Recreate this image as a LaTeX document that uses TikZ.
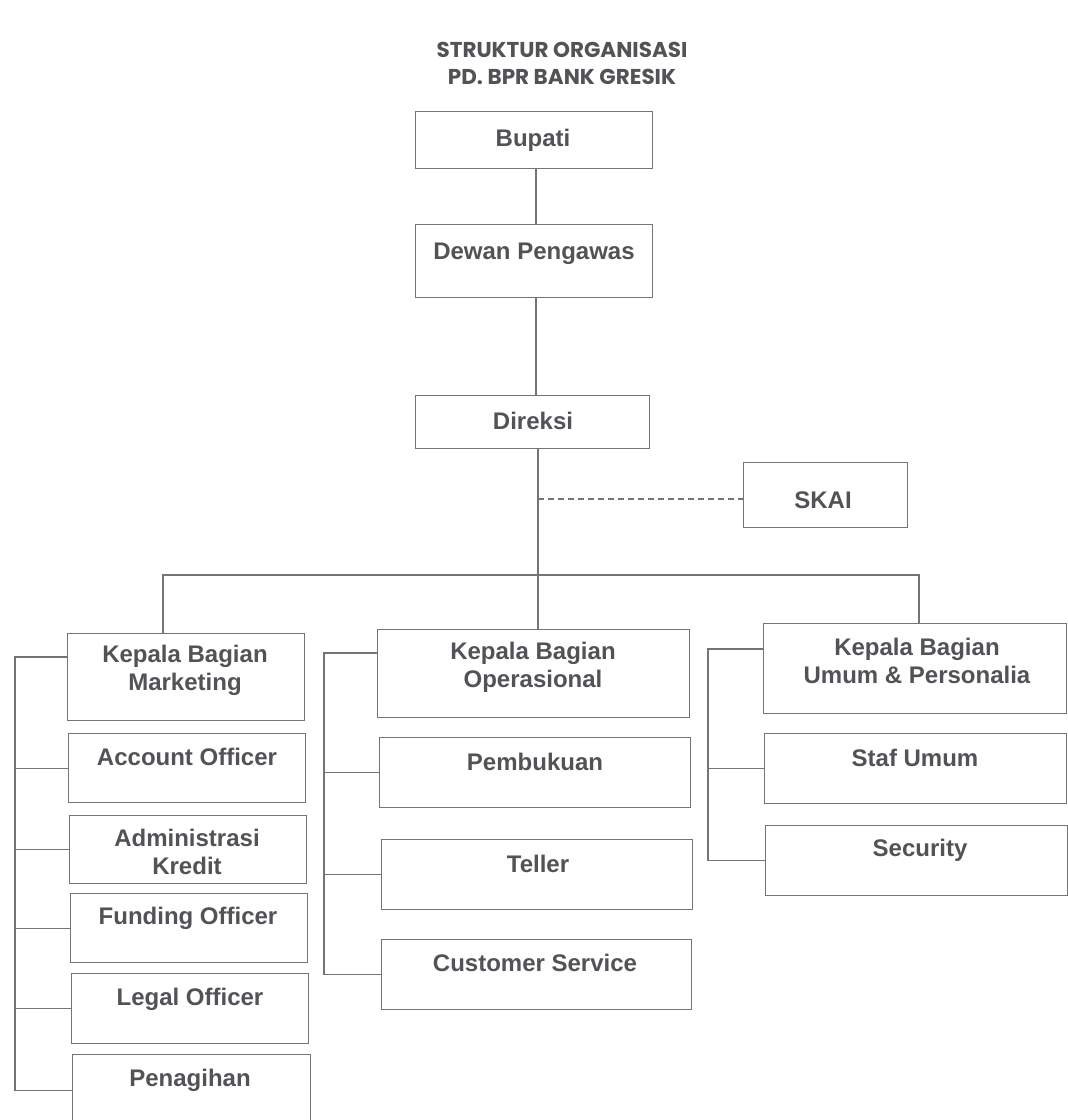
\documentclass[tikz,border=0pt]{standalone}
\usepackage{fontspec}
\setmainfont{Liberation Sans}
\newfontfamily\titlefont{Poppins}
\definecolor{linec}{rgb}{0.45,0.45,0.47}
\definecolor{txtc}{rgb}{0.32,0.32,0.34}
\begin{document}
\begin{tikzpicture}[x=1pt,y=-1pt,
  box/.style={draw=linec, line width=1.3pt, rectangle, inner sep=0pt, anchor=north west},
  lbl/.style={text=txtc, font=\fontsize{24}{28}\selectfont\bfseries, align=center, inner sep=0pt},
  ttl/.style={text=txtc, font=\titlefont\fontsize{21.5}{27}\selectfont\bfseries, align=center, inner sep=0pt},
  conn/.style={draw=linec, line width=1.3pt},
  dconn/.style={draw=linec, line width=1.3pt, dash pattern=on 6pt off 4pt}]
\useasboundingbox[fill=white] (0,0) rectangle (1068,1120);

% title
\node[ttl] (title) at (562,63) {STRUKTUR ORGANISASI\\PD. BPR BANK GRESIK};

% boxes
\node[box, minimum width=237pt, minimum height=57pt] (bupati) at (415,111) {};
\node[box, minimum width=237pt, minimum height=73pt] (dewan) at (415,224) {};
\node[box, minimum width=234pt, minimum height=53pt] (direksi) at (415,395) {};
\node[box, minimum width=164pt, minimum height=65pt] (skai) at (743,462) {};

\node[box, minimum width=237pt, minimum height=87pt] (mkt) at (67,633) {};
\node[box, minimum width=237pt, minimum height=69pt] (ao) at (68,733) {};
\node[box, minimum width=237pt, minimum height=68pt] (adm) at (69,815) {};
\node[box, minimum width=237pt, minimum height=69pt] (fo) at (70,893) {};
\node[box, minimum width=237pt, minimum height=70pt] (lo) at (71,973) {};
\node[box, minimum width=238pt, minimum height=72pt] (pen) at (72,1054) {};

\node[box, minimum width=312pt, minimum height=88pt] (ops) at (377,629) {};
\node[box, minimum width=311pt, minimum height=70pt] (pem) at (379,737) {};
\node[box, minimum width=311pt, minimum height=70pt] (tel) at (381,839) {};
\node[box, minimum width=310pt, minimum height=70pt] (cs) at (381,939) {};

\node[box, minimum width=303pt, minimum height=90pt] (umum) at (763,623) {};
\node[box, minimum width=302pt, minimum height=70pt] (staf) at (764,733) {};
\node[box, minimum width=302pt, minimum height=70pt] (sec) at (765,825) {};

% labels
\node[lbl, anchor=base] (t-bupati) at (533,146) {Bupati};
\node[lbl, anchor=base] (t-dewan) at (534,259) {Dewan Pengawas};
\node[lbl, anchor=base] (t-direksi) at (533,429) {Direksi};
\node[lbl, anchor=base] (t-skai) at (823,508) {SKAI};

\node[lbl] (t-mkt) at (185,670) {Kepala Bagian\\Marketing};
\node[lbl, anchor=base] (t-ao) at (187,765) {Account Officer};
\node[lbl] (t-adm) at (187,852) {Administrasi\\Kredit};
\node[lbl, anchor=base] (t-fo) at (188,924) {Funding Officer};
\node[lbl, anchor=base] (t-lo) at (190,1005) {Legal Officer};
\node[lbl, anchor=base] (t-pen) at (190,1086) {Penagihan};

\node[lbl] (t-ops) at (533,667) {Kepala Bagian\\Operasional};
\node[lbl, anchor=base] (t-pem) at (535,770) {Pembukuan};
\node[lbl, anchor=base] (t-tel) at (538,872) {Teller};
\node[lbl, anchor=base] (t-cs) at (535,971) {Customer Service};

\node[lbl] (t-umum) at (917,661) {Kepala Bagian\\Umum \& Personalia};
\node[lbl, anchor=base] (t-staf) at (915,766) {Staf Umum};
\node[lbl, anchor=base] (t-sec) at (920,856) {Security};

% helper coordinates
\coordinate (xa) at (536,0);
\coordinate (xb) at (538,0);
\coordinate (dj) at (538,499);
\coordinate (bus) at (0,575);
\coordinate (xm) at (163,0);
\coordinate (xu) at (919,0);
\coordinate (bm) at (15,0);
\coordinate (bo) at (324,0);
\coordinate (bu) at (708,0);
\coordinate (mh) at ([yshift=-24pt]mkt.north west);
\coordinate (oh) at ([yshift=-24pt]ops.north west);
\coordinate (uh) at ([yshift=-26pt]umum.north west);

% vertical chain
\draw[conn] (bupati.south -| xa) -- (dewan.north -| xa);
\draw[conn] (dewan.south -| xa) -- (direksi.north -| xa);
\draw[conn] (direksi.south -| xb) -- (ops.north -| xb);
\draw[dconn] (dj) -- (skai.west |- dj);

% bus
\draw[conn] (mkt.north -| xm) -- (xm |- bus) -- (xu |- bus) -- (umum.north -| xu);

% marketing bracket
\draw[conn] (mh) -- (bm |- mh) -- (bm |- pen.west) -- (pen.west);
\foreach \n in {ao,adm,fo,lo} \draw[conn] (\n.west) -- (bm |- \n.west);

% operasional bracket
\draw[conn] (oh) -- (bo |- oh) -- (bo |- cs.west) -- (cs.west);
\foreach \n in {pem,tel} \draw[conn] (\n.west) -- (bo |- \n.west);

% umum bracket
\draw[conn] (uh) -- (bu |- uh) -- (bu |- sec.west) -- (sec.west);
\draw[conn] (staf.west) -- (bu |- staf.west);
\end{tikzpicture}
\end{document}
